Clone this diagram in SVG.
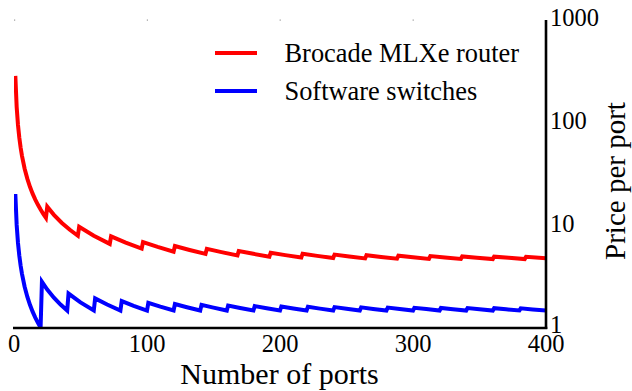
<svg xmlns="http://www.w3.org/2000/svg" width="632" height="391" viewBox="0 0 632 391">
  <style>
    .series { fill: none; stroke-width: 4; stroke-linejoin: miter; stroke-linecap: butt; }
    .red { stroke: #ff0000; }
    .blue { stroke: #0000ff; }
    .spine { stroke: #000; stroke-width: 2.6; fill: none; }
    .minor { fill: #9a9a9a; }
  </style>
  <defs>
    <clipPath id="plot-area">
      <rect x="14" y="20" width="532" height="308"/>
    </clipPath>
  </defs>
  <rect width="632" height="391" fill="#fff"/>

  <!-- price-per-port curves (log scale, 102.67 px per decade) -->
  <g id="series" clip-path="url(#plot-area)">
    <polyline id="router" class="series red" points="15.33,75.96 16.66,106.87 17.99,124.95 19.32,137.77 20.65,147.72 21.98,155.85 24.64,168.68 27.3,178.63 29.96,186.76 32.62,193.63 35.28,199.59 37.94,204.84 40.6,209.54 43.26,213.79 45.92,217.67 47.25,206.67 53.9,214.8 61.88,222.92 69.86,229.8 77.84,235.75 79.17,226.71 93.8,235.74 109.76,243.87 111.09,236.37 125.72,242.62 141.68,248.58 143.01,242.16 157.64,246.95 173.6,251.65 174.93,246.07 189.56,249.95 205.52,253.83 206.85,248.88 221.48,252.14 237.44,255.44 238.77,251.02 253.4,253.83 269.36,256.71 270.69,252.69 285.32,255.11 301.28,257.51 302.61,253.82 317.24,255.89 333.2,258.03 334.53,254.63 349.16,256.48 365.12,258.41 366.45,255.26 381.08,256.93 397.04,258.68 398.37,255.75 413,257.27 428.96,258.87 430.29,256.13 444.92,257.53 460.88,259 462.21,256.42 476.84,257.71 492.8,259.07 494.13,256.64 508.76,257.84 524.72,259.1 526.05,256.8 546,258.31"/>
    <polyline id="software" class="series blue" points="15.33,193.98 16.66,224.89 17.99,242.97 19.32,255.79 20.65,265.74 21.98,273.87 24.64,286.7 27.3,296.65 29.96,304.78 32.62,311.65 35.28,317.61 37.94,322.86 40.6,327.56 41.93,281.79 47.25,289.57 53.9,297.7 60.55,304.57 67.2,310.52 68.53,293.54 80.5,302.39 93.8,310.52 95.13,298.43 107.1,304.57 120.4,310.52 121.73,301.12 133.7,305.82 147,310.52 148.33,302.83 160.3,306.64 173.6,310.52 174.93,304.02 186.9,307.22 200.2,310.52 201.53,304.88 213.5,307.64 226.8,310.52 228.13,305.54 240.1,307.97 253.4,310.52 254.73,306.07 266.7,308.23 280,310.52 281.33,306.49 293.3,308.44 306.6,310.52 307.93,306.84 319.9,308.62 333.2,310.52 334.53,307.14 346.5,308.77 359.8,310.52 361.13,307.39 373.1,308.9 386.4,310.52 387.73,307.6 399.7,309.01 413,310.52 414.33,307.79 426.3,309.1 439.6,310.52 440.93,307.96 452.9,309.19 466.2,310.52 467.53,308.1 479.5,309.26 492.8,310.52 494.13,308.23 506.1,309.33 519.4,310.52 520.73,308.35 532.7,309.39 546,310.52"/>
  </g>

  <!-- axes -->
  <g id="axes">
    <line class="spine" x1="13" y1="328" x2="547.3" y2="328"/>
    <line class="spine" x1="546" y1="20" x2="546" y2="329"/>
    <rect class="minor" x="14" y="19.5" width="1.2" height="1.2"/>
    <rect class="minor" x="146.8" y="19.5" width="1.2" height="1.2"/>
    <rect class="minor" x="279.6" y="19.5" width="1.2" height="1.2"/>
    <rect class="minor" x="412.6" y="19.5" width="1.2" height="1.2"/>
  </g>

  <g font-family="Liberation Serif, DejaVu Serif, serif" fill="#000">
    <!-- tick labels -->
    <g id="x-ticks" font-size="24.5" text-anchor="middle">
      <text x="14" y="352">0</text>
      <text x="147" y="352">100</text>
      <text x="280" y="352">200</text>
      <text x="413" y="352">300</text>
      <text x="546" y="352">400</text>
    </g>
    <g id="y-ticks" font-size="24.5">
      <text x="550" y="26">1000</text>
      <text x="550" y="128.5">100</text>
      <text x="550" y="231.5">10</text>
      <text x="550" y="332.5">1</text>
    </g>

    <!-- axis titles -->
    <text id="x-title" x="279.5" y="384" font-size="30" text-anchor="middle">Number of ports</text>
    <text id="y-title" font-size="29" text-anchor="middle" transform="translate(625,181) rotate(-90)">Price per port</text>

    <!-- legend -->
    <g id="legend" font-size="26.4">
      <g id="legend-router">
        <line class="series red" x1="215" y1="53" x2="257" y2="53"/>
        <text x="284.5" y="62">Brocade MLXe router</text>
      </g>
      <g id="legend-software">
        <line class="series blue" x1="215" y1="91" x2="257" y2="91"/>
        <text x="284.5" y="100">Software switches</text>
      </g>
    </g>
  </g>
</svg>
